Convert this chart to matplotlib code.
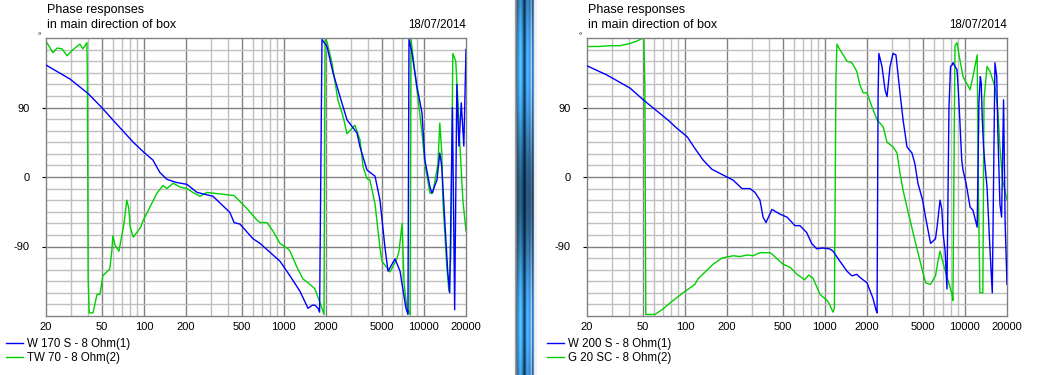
import numpy as np
import matplotlib.pyplot as plt

plt.rcParams['font.family'] = ['Liberation Sans', 'DejaVu Sans']
plt.rcParams['font.size'] = 8
plt.rcParams['axes.unicode_minus'] = False

# left chart: W 170 S (blue) / TW 70 (green)
w170_freq = [20, 29.6, 40, 50, 60, 84, 100, 116, 130, 146, 170, 203, 240, 312, 412, 441, 486, 602, 676,
             938, 1106, 1304, 1487, 1600, 1668, 1754, 1800, 1872, 2033, 2244, 2520, 2825, 3330, 3500,
             3925, 4480, 4860, 5280, 5550, 6220, 6760, 7450, 7700, 7830, 8220, 8930, 9700, 10170, 11060,
             11420, 12400, 13000, 13440, 14100, 14800, 15300, 16000, 16600, 17200, 17800, 18500, 19300, 20000]
w170_phase = [145, 127, 108, 90, 74, 45, 32, 22, 6, -3, -7, -9.5, -20, -25, -46, -59, -61, -80, -86,
              -109, -128, -148, -170, -166, -166, -170, -175, 178, 169, 135, 104, 74, 57, 39,
              9, 1, -30, -92, -122, -106, -122, -170, -178, 178, 161, 117, 83, 22, -13,
              -21, -4, 31, 13, -56, -122, -150, 90, -172, 120, 40, 96, 40, 165]

tw70_freq = [20, 20.3, 22.4, 24, 26, 28.3, 31.2, 34.9, 36.7, 39.2, 39.5, 40, 40.7, 43.3, 46.3, 48.6, 50.9,
             57.1, 59, 60.1, 62.2, 66.4, 72.2, 75.5, 78, 80, 84, 94.9, 98.4, 124, 137, 146, 162, 181, 203,
             224, 252, 282, 394, 441, 546, 644, 676, 758, 836, 938, 1070, 1106, 1242, 1369, 1537, 1668,
             1872, 1936, 1968, 2033, 2206, 2430, 2634, 2825, 3220, 3500, 3680, 3925, 4120, 4480, 4860,
             5020, 5740, 6430, 6650, 6990, 7230, 7570, 7970, 8100, 8520, 8930, 9700, 10170, 11060, 11610,
             12600, 13000, 13440, 13660, 14600, 15100, 15600, 16100, 16900, 17500, 18100, 19000, 20000]
tw70_phase = [174, 174, 161, 167, 166, 157, 165, 172, 166, 174, 130, -130, -176, -176, -152, -152, -128,
              -119, -96, -76, -88, -96, -60, -30, -40, -65, -78, -65, -57, -21, -11, -15, -8, -13, -15,
              -20, -25, -20, -23, -24, -41, -56, -59, -59, -70, -86, -93, -96, -117, -132, -139, -145,
              -170, -178, 178, 175, 148, 100, 80, 56, 67, 48, 13, -2, -4, -35, -92,
              -109, -123, -105, -96, -60, -139, -170, -178, 178, 143, 113, 57, 17, -21, -20,
              17, 70, 31, -30, -117, -148, -100, 160, 150, 100, 40, -30, -70]

# right chart: W 200 S (blue) / G 20 SC (green)
w200_freq = [20, 27.8, 40.7, 50.4, 75.5, 87.8, 104, 118, 135, 156, 200, 221, 256, 292, 317, 344, 362, 380,
             419, 477, 537, 612, 664, 742, 805, 874, 963, 1080, 1143, 1280, 1440, 1560, 1690, 1780, 2000,
             2206, 2318, 2360, 2400, 2430, 2560, 2690, 2780, 2920, 3070, 3220, 3440, 3620, 3860, 4190,
             4400, 4620, 4990, 5240, 5690, 6170, 6330, 6650, 6850, 7000, 7230, 7450, 7700, 7900, 8100,
             8220, 8780, 8950, 9130, 9500, 9700, 10200, 10900, 11420, 12250, 12600, 12900, 13100, 13300,
             13600, 13900, 14400, 15100, 15700, 16400, 16900, 17200, 17800, 18300, 18900, 19400, 20000]
w200_phase = [144, 132, 115, 100, 74, 63, 52, 37, 22, 10, 0, -4, -15, -15, -20, -30, -52, -59,
              -42, -48, -52, -63, -63, -72, -86, -93, -92, -93, -96, -109, -122, -128, -126, -130, -137,
              -157, -172, -176, 104, 160, 143, 113, 104, 143, 160, 158, 109, 74, 39, 31,
              17, -8, -30, -52, -86, -80, -65, -30, -42, -74, -96, -145, 90, 143, 145,
              148, 139, 117, 87, 22, 9, -8, -39, -43, -65, 96, 130, 121, 78,
              39, 17, -13, -92, -150, 148, 130, 60, -35, -52, 100, -60, -139]

g20_freq = [20, 24, 29.2, 34.3, 40.7, 45.4, 50.4, 51, 51.8, 52.6, 61, 69.7, 81, 97, 118, 124, 159, 184,
            221, 248, 278, 307, 344, 406, 426, 503, 566, 632, 718, 766, 823, 923, 1040, 1080, 1143,
            1170, 1200, 1220, 1280, 1440, 1560, 1690, 1780, 1880, 2000, 2170, 2360, 2610, 2780, 3070,
            3280, 3440, 3620, 3860, 4060, 4550, 4990, 5240, 5690, 6170, 6430, 6650, 7200, 8100, 8220,
            8500, 8780, 9130, 9700, 10900, 11420, 12250, 12500, 12800, 13440, 13700, 14400, 15100,
            16400, 17200, 17800, 18600, 20000]
g20_phase = [169, 169, 170, 170, 173, 176, 180, 178, 117, -178, -178, -171, -161, -150, -139, -132, -113, -105,
             -102, -103, -101, -102, -98, -98, -101, -113, -117, -126, -133, -127, -131, -152, -160, -165, -175,
             -170, 128, 172, 165, 150, 148, 137, 119, 109, 109, 91, 74, 65, 45, 39,
             31, 5, -17, -39, -56, -93, -122, -137, -139, -128, -109, -96, -120, -152, -160,
             170, 174, 156, 130, 113, 130, 158, -20, -150, -150, 100, 143, 137,
             117, 87, 39, -4, -30]

x_ticks = [20, 50, 100, 200, 500, 1000, 2000, 5000, 10000, 20000]
y_ticks = [90, 0, -90]
title_lines = ['Phase responses', 'in main direction of box']
date_text = '18/07/2014'

W, H = 1052, 375
fig = plt.figure(figsize=(W / 100, H / 100), dpi=100)
fig.patch.set_facecolor('white')


def panel(x_px, bf, bp, gf, gp, names):
    ax = fig.add_axes([x_px / W, 59 / H, 420 / W, 278 / H])
    ax.set_xscale('log')
    ax.set_xlim(20, 20000)
    ax.set_ylim(-180, 180)

    # log grid, labelled decades darker
    grid_f = [m * 10 ** e for e in range(1, 5) for m in range(1, 10)]
    for f in grid_f:
        if 20 < f < 20000:
            ax.axvline(f, color='#808080' if f in x_ticks else '#c0c0c0', lw=1, zorder=1)
    for d in range(-165, 180, 15):
        ax.axhline(d, color='#808080' if d % 90 == 0 else '#c0c0c0', lw=1, zorder=1)

    ax.plot(gf, gp, color='#00d000', lw=1, zorder=2, label=names[1])
    ax.plot(bf, bp, color='#0000ff', lw=1, zorder=3, label=names[0])

    ax.set_xticks(x_ticks)
    ax.set_xticklabels([str(t) for t in x_ticks])
    ax.xaxis.set_minor_locator(plt.NullLocator())
    ax.set_yticks(y_ticks)
    ax.set_yticklabels([str(t) for t in y_ticks])
    ax.tick_params(axis='x', length=0, pad=4, labelsize=8)
    ax.tick_params(axis='y', length=3, width=0.8, pad=9, labelsize=8)
    for s in ax.spines.values():
        s.set_color('#808080')
        s.set_linewidth(1)

    fig.text((x_px + 1) / W, 1 - 10 / H, title_lines[0], va='center', ha='left', fontsize=9)
    fig.text((x_px + 1) / W, 1 - 25 / H, title_lines[1], va='center', ha='left', fontsize=9)
    fig.text((x_px + 420) / W, 1 - 25 / H, date_text, va='center', ha='right', fontsize=8.3)
    fig.text((x_px - 7) / W, 1 - 37 / H, '°', va='center', ha='center', fontsize=6)

    h, l = ax.get_legend_handles_labels()
    fig.legend(h[::-1], l[::-1], loc='upper left',
               bbox_to_anchor=((x_px - 40) / W, 1 - 338 / H),
               frameon=False, handlelength=1.45, handletextpad=0.35,
               labelspacing=0.18, borderaxespad=0, borderpad=0, fontsize=8.3)
    return ax


panel(46, w170_freq, w170_phase, tw70_freq, tw70_phase, ['W 170 S - 8 Ohm(1)', 'TW 70 - 8 Ohm(2)'])
panel(587, w200_freq, w200_phase, g20_freq, g20_phase, ['W 200 S - 8 Ohm(1)', 'G 20 SC - 8 Ohm(2)'])

# window divider strip between the two screenshots
ax_div = fig.add_axes([514 / W, 0, 23 / W, 1])
ax_div.axis('off')
cols = np.array([
    [0.93, 0.93, 0.93], [0.6, 0.6, 0.6], [0.45, 0.45, 0.45],
    [0.15, 0.5, 0.8], [0.2, 0.6, 0.88], [0.3, 0.7, 0.95], [0.35, 0.75, 0.97], [0.25, 0.65, 0.9],
    [0.15, 0.5, 0.8], [0.08, 0.3, 0.5], [0.05, 0.2, 0.3], [0.2, 0.55, 0.85],
    [0.3, 0.68, 0.95], [0.3, 0.68, 0.95], [0.25, 0.6, 0.9], [0.2, 0.55, 0.85],
    [0.8, 0.9, 1.0], [0.15, 0.45, 0.75], [0.2, 0.5, 0.8],
    [0.9, 0.9, 0.9], [0.95, 0.95, 0.95], [0.95, 0.95, 0.95], [1, 1, 1]])
rows = np.linspace(0, 1, 60)
shade = 0.8 + 0.25 * np.sin(rows * 9.0)
img = np.clip(cols[None, :, :] * shade[:, None, None], 0, 1)
img[:, :3] = cols[None, :3]
img[:, 19:] = cols[None, 19:]
ax_div.imshow(img, aspect='auto', interpolation='bilinear')

fig.savefig('out.png', dpi=100)
